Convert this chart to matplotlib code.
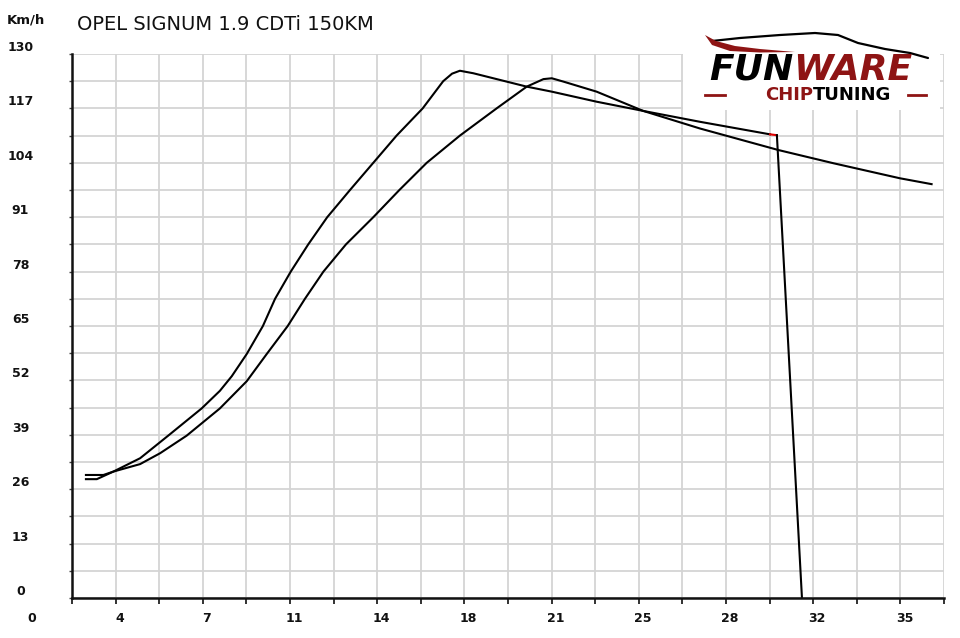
import matplotlib
matplotlib.use("Agg")
import matplotlib.pyplot as plt
from matplotlib.patches import Rectangle, Polygon
from matplotlib.lines import Line2D
import matplotlib.transforms as mtransforms

# ---------------- data ----------------
title = "OPEL SIGNUM 1.9 CDTi 150KM"
y_unit = "Km/h"
x_tick_labels = ["4", "7", "11", "14", "18", "21", "25", "28", "32", "35"]
y_tick_values = [0, 13, 26, 39, 52, 65, 78, 91, 104, 117, 130]

# tuned run (peaks early, ends with cut-off)
tuned_x = [2.83, 3.26, 3.91, 4.97, 6.08, 7.40, 8.12, 8.59, 9.18, 9.82, 10.30, 10.92,
           11.61, 12.36, 13.26, 14.18, 15.10, 16.13, 16.94, 17.29, 17.60, 18.13, 20.24,
           21.23, 23.00, 24.84, 27.08, 29.85]
tuned_y = [28.4, 28.4, 30.2, 33.4, 38.8, 45.3, 49.5, 53.0, 58.3, 65.0, 71.5, 78.0,
           84.5, 91.0, 97.5, 104.0, 110.5, 117.0, 123.5, 125.3, 126.0, 125.4, 122.2,
           121.0, 118.6, 116.4, 113.8, 110.8]
cut_x = [29.85, 30.12]
cut_y = [110.8, 110.6]
drop_x = [30.12, 31.11]
drop_y = [110.6, 0.0]

# stock run
stock_x = [2.83, 3.52, 3.91, 4.97, 5.76, 6.81, 8.12, 9.18, 9.97, 10.80, 11.48, 12.21,
           13.10, 14.18, 15.21, 16.29, 17.60, 19.05, 20.24, 20.90, 21.23, 21.69, 23.00,
           24.84, 27.08, 30.18, 32.35, 34.98, 36.23]
stock_y = [29.4, 29.4, 30.2, 32.0, 34.6, 38.8, 45.3, 51.8, 58.3, 65.0, 71.5, 78.0,
           84.5, 91.0, 97.5, 104.0, 110.5, 117.0, 122.2, 124.0, 124.2, 123.4, 121.0,
           116.4, 112.2, 107.05, 103.9, 100.3, 98.9]

X0 = 2.28
STEP = 1.722
NGRID = 20

# ---------------- figure ----------------
W, H = 960, 638
fig = plt.figure(figsize=(W / 100, H / 100), dpi=100)
fig.patch.set_facecolor("white")

def fx(px):
    return px / W

def fy(py):
    return 1 - py / H

ax = fig.add_axes([fx(72), fy(598), (944 - 72) / W, (598 - 54) / H])
ax.set_xlim(X0, X0 + NGRID * STEP)
ax.set_ylim(0, 130)

grid_x = [X0 + STEP * i for i in range(NGRID + 1)]
grid_y = [6.5 * i for i in range(21)]
ax.set_xticks(grid_x)
ax.set_yticks(grid_y)
ax.set_xticklabels([])
ax.set_yticklabels([])
ax.grid(True, color="#d4d4d4", linewidth=1.3)
ax.set_axisbelow(True)
ax.tick_params(axis="x", direction="out", length=4, width=1.3, color="#222222")
ax.tick_params(axis="y", direction="out", length=2, width=1.0, color="#444444")
for s in ["top", "right"]:
    ax.spines[s].set_visible(False)
for s in ["left", "bottom"]:
    ax.spines[s].set_linewidth(1.8)
    ax.spines[s].set_color("#111111")

lw = 1.5
ax.plot(stock_x, stock_y, color="black", linewidth=lw, solid_joinstyle="round")
ax.plot(tuned_x, tuned_y, color="black", linewidth=lw, solid_joinstyle="round")
ax.plot(cut_x, cut_y, color="#e00000", linewidth=lw)
ax.plot(drop_x, drop_y, color="black", linewidth=lw)

# tick labels
tick_font = dict(fontsize=9, fontweight="bold", color="#111111", family="DejaVu Sans")
trans_x = mtransforms.blended_transform_factory(ax.transData, fig.transFigure)
for i, lab in enumerate(x_tick_labels):
    gx = X0 + STEP * (2 * i + 1)
    t = mtransforms.offset_copy(trans_x, fig=fig, x=4, y=0, units="dots")
    ax.text(gx, fy(619), lab, transform=t, ha="center", va="center", **tick_font)
fig.text(fx(32), fy(619), "0", ha="center", va="center", **tick_font)

trans_y = mtransforms.blended_transform_factory(fig.transFigure, ax.transData)
for v in y_tick_values:
    t = mtransforms.offset_copy(trans_y, fig=fig, x=0, y=6.5, units="dots")
    ax.text(fx(20.5), v, str(v), transform=t, ha="center", va="center",
            clip_on=False, **tick_font)

fig.text(fx(7), fy(20), y_unit, ha="left", va="center", fontsize=9.5,
         fontweight="bold", color="#111111", family="DejaVu Sans")
fig.text(fx(77), fy(24), title, ha="left", va="center", fontsize=14,
         color="#111111", family="DejaVu Sans")

# ---------------- logo ----------------
fig.patches.append(Rectangle((fx(683), fy(110)), (940 - 683) / W, (110 - 18) / H,
                             transform=fig.transFigure, facecolor="white",
                             edgecolor="none", zorder=5))
red = "#8e1414"
roof = [(712, 41), (740, 38), (780, 35), (815, 33), (838, 35), (858, 43),
        (885, 49), (910, 53), (928, 58)]
fig.lines.append(Line2D([fx(p[0]) for p in roof], [fy(p[1]) for p in roof],
                        transform=fig.transFigure, color="black", linewidth=1.6,
                        zorder=6, solid_capstyle="round", solid_joinstyle="round"))
swoosh = [(705, 35), (716, 41), (735, 46), (760, 49), (795, 52),
          (760, 52.5), (730, 51), (712, 45)]
fig.patches.append(Polygon([(fx(p[0]), fy(p[1])) for p in swoosh], closed=True,
                           transform=fig.transFigure, facecolor=red,
                           edgecolor="none", zorder=6))

fig.text(fx(793), fy(80), "FUN", ha="right", va="baseline", fontsize=26,
         fontweight="heavy", style="italic", color="black", family="DejaVu Sans",
         zorder=7)
fig.text(fx(793), fy(80), "WARE", ha="left", va="baseline", fontsize=26,
         fontweight="heavy", style="italic", color=red, family="DejaVu Sans",
         zorder=7)
fig.text(fx(813), fy(100), "CHIP", ha="right", va="baseline", fontsize=13,
         fontweight="bold", color=red, family="DejaVu Sans", zorder=7)
fig.text(fx(813), fy(100), "TUNING", ha="left", va="baseline", fontsize=13,
         fontweight="bold", color="black", family="DejaVu Sans", zorder=7)
for a, b in [(705, 725), (908, 926)]:
    fig.lines.append(Line2D([fx(a), fx(b)], [fy(95), fy(95)], transform=fig.transFigure,
                            color=red, linewidth=2, zorder=7))

fig.savefig("out.png", dpi=100, facecolor="white")
